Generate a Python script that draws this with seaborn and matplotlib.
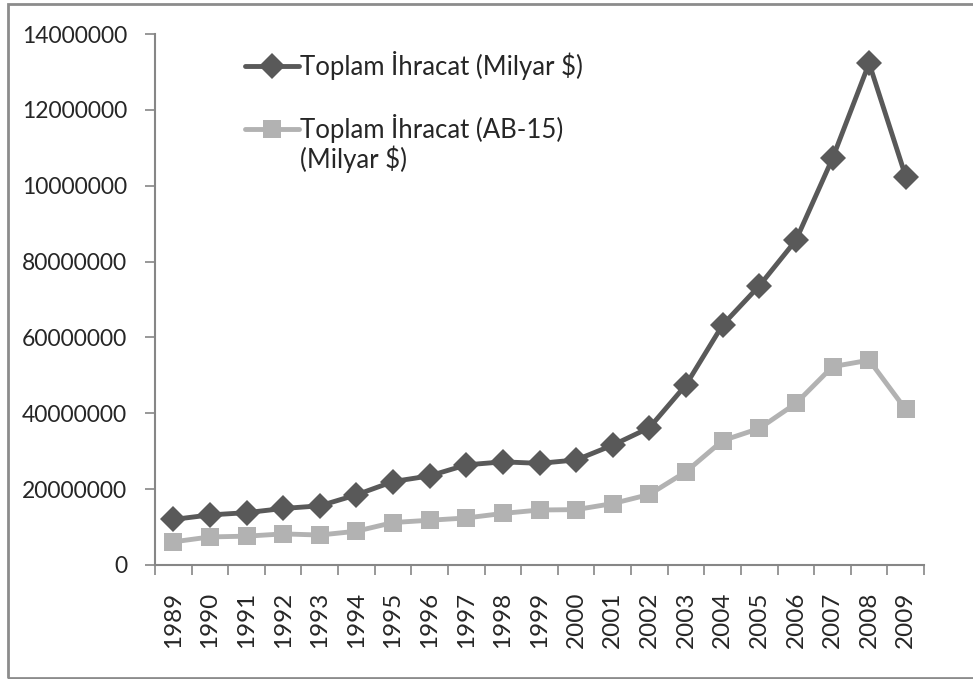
import pandas as pd
import matplotlib
matplotlib.use("Agg")
import matplotlib.pyplot as plt
import seaborn as sns
from matplotlib.patches import Rectangle

# Veriler
yillar = list(range(1989, 2010))
toplam_ihracat = [12.0, 13.2, 13.8, 14.9, 15.6, 18.5, 22.0, 23.5, 26.4, 27.2, 26.8,
                  27.7, 31.6, 36.2, 47.5, 63.3, 73.6, 85.6, 107.2, 132.3, 102.4]
ab15_ihracat = [6.1, 7.4, 7.6, 8.2, 7.9, 8.9, 11.2, 11.8, 12.4, 13.6, 14.5,
                14.6, 16.2, 18.6, 24.6, 32.8, 36.0, 42.6, 52.3, 54.0, 41.0]
seri_adlari = ["Toplam İhracat (Milyar $)", "Toplam İhracat (AB-15)"]
y_etiketleri = ["0", "20000000", "40000000", "60000000", "80000000",
                "10000000", "12000000", "14000000"]

df = pd.DataFrame({
    "yil": yillar * 2,
    "deger": [v * 1e6 for v in toplam_ihracat] + [v * 1e6 for v in ab15_ihracat],
    "seri": [seri_adlari[0]] * len(yillar) + [seri_adlari[1]] * len(yillar),
})

sns.set_style("white")
plt.rcParams["font.family"] = ["Lato", "DejaVu Sans"]

fig = plt.figure(figsize=(9.73, 6.79), dpi=100)
ax = fig.add_axes([0.1593, 0.1679, 0.7904, 0.7820])

sns.lineplot(data=df, x="yil", y="deger", hue="seri", style="seri",
             markers=["D", "s"], dashes=False,
             palette=["#595959", "#b2b2b2"], linewidth=3.5,
             markeredgewidth=0, ax=ax)
boyutlar = [13, 13]
for line, ms in zip(ax.lines, boyutlar):
    line.set_markersize(ms)

# eksenler
ax.set_xlim(1988.5, 2009.5)
ax.set_ylim(0, 140e6)
ax.set_xlabel("")
ax.set_ylabel("")
ax.set_xticks(yillar)
ax.set_xticklabels([str(y) for y in yillar], rotation=90, fontsize=17.5)
ax.set_xticks([y - 0.5 for y in yillar] + [2009.5], minor=True)
ax.tick_params(axis="x", which="major", length=0, pad=19)
ax.tick_params(axis="x", which="minor", length=7, width=1.2, color="#868686",
               direction="out", bottom=True)
ax.set_yticks([i * 20e6 for i in range(8)])
ax.set_yticklabels(y_etiketleri, fontsize=16.5)
ax.tick_params(axis="y", length=7, width=1.2, color="#868686", direction="out",
               left=True, pad=13)

for s in ["top", "right"]:
    ax.spines[s].set_visible(False)
for s in ["left", "bottom"]:
    ax.spines[s].set_color("#868686")
    ax.spines[s].set_linewidth(1.5)

# lejant
handles, labels = ax.get_legend_handles_labels()
for h, ms in zip(handles, boyutlar):
    h.set_markersize(ms)
    h.set_linewidth(3.5)
leg = ax.legend(handles, labels, loc="upper left", bbox_to_anchor=(0.1, 0.993),
                frameon=False, fontsize=18.5, handlelength=2.1, handletextpad=0.05,
                labelspacing=1.35, borderpad=0)
fig.canvas.draw()
ax.annotate("(Milyar $)", xy=(0, 0), xycoords=leg.get_texts()[1],
            xytext=(0, -1.5), textcoords="offset points", va="top",
            fontsize=18.5, zorder=6)

# dış çerçeve
fig.patches.append(Rectangle((8 / 973, 1 / 679), 1.2, 1 - 5 / 679,
                             transform=fig.transFigure, fill=False,
                             edgecolor="#8c8c8c", linewidth=2))

fig.savefig("out.png", dpi=100)
